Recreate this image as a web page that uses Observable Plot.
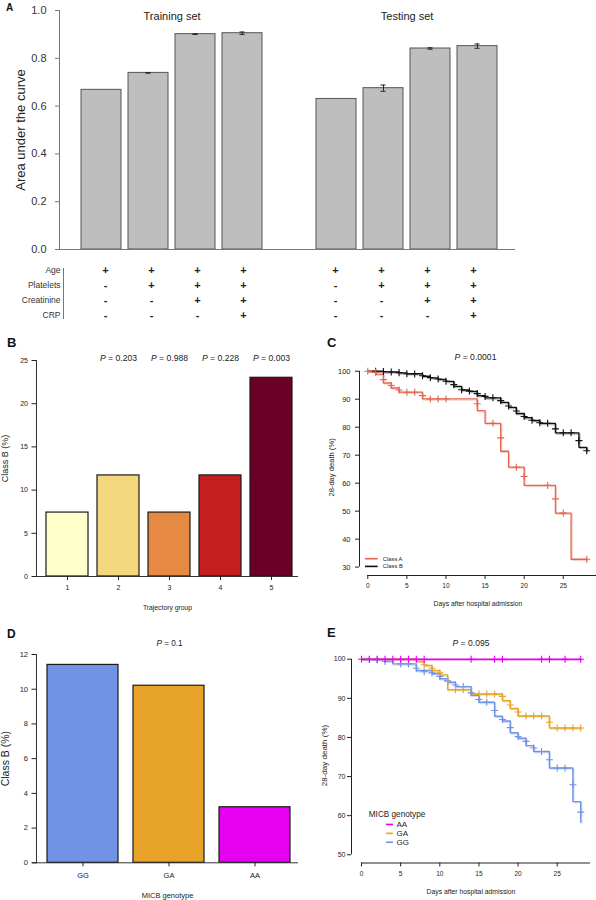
<!DOCTYPE html>
<html lang="en">
<head>
<meta charset="utf-8">
<title>Class B: prediction, trajectories and MICB genotype</title>
<script src="https://cdn.jsdelivr.net/npm/d3@7"></script>
<script src="https://cdn.jsdelivr.net/npm/@observablehq/plot@0.6"></script>
<style>
  html, body { margin: 0; padding: 0; background: #fff; }
  #figure { position: relative; width: 596px; height: 900px; overflow: hidden; background: #fff;
            font-family: "Liberation Sans", Arial, Helvetica, sans-serif; color: #222; }
  #figure > svg { position: absolute; }
  .tag { position: absolute; font-weight: bold; line-height: 1; color: #111; }
</style>
</head>
<body>
<div id="figure"></div>
<script>
const FONT = "'Liberation Sans', Arial, Helvetica, sans-serif";

// ---------- A: area under the curve of nested models ----------
const aucSets = ["Training set", "Testing set"];
const aucModelVariables = [
  ["Age"],
  ["Age", "Platelets"],
  ["Age", "Platelets", "Creatinine"],
  ["Age", "Platelets", "Creatinine", "CRP"]
];
const aucTraining = [0.668, 0.739, 0.901, 0.905];
const aucTrainingErr = [0, 0.001, 0.001, 0.005];
const aucTesting = [0.630, 0.675, 0.841, 0.851];
const aucTestingErr = [0, 0.013, 0.003, 0.009];
const aucVariables = ["Age", "Platelets", "Creatinine", "CRP"];
const aucTicks = [0, 0.2, 0.4, 0.6, 0.8, 1.0];

// ---------- B: class B share by trajectory group ----------
const trajGroups = ["1", "2", "3", "4", "5"];
const trajClassB = [7.4, 11.7, 7.4, 11.7, 23.0];
const trajPValues = ["", "0.203", "0.988", "0.228", "0.003"];
const trajColors = ["#ffffcc", "#f2d77e", "#e68a43", "#c41f1f", "#6a0028"];
const trajTicks = [0, 5, 10, 15, 20, 25];

// ---------- C: 28-day survival by class ----------
const classNames = ["Class A", "Class B"];
const classColors = ["#e2674e", "#111111"];
const classAEventDays = [1, 2, 3, 4, 7, 14, 15, 17, 18, 20, 24, 26];
const classAEventSurv = [99.0, 95.8, 94.0, 92.5, 90.1, 85.9, 81.4, 71.4, 65.7, 59.2, 49.3, 32.8];
const classACensorDays = [0, 1, 2, 3, 4, 5, 6, 7, 8, 9, 10, 14, 16, 17, 19, 20, 23, 24, 25, 28];
const classACensorSurv = [100, 99.6, 97.0, 94.9, 93.3, 92.5, 92.5, 91.3, 90.1, 90.1, 90.1, 88.4, 81.4, 76.2, 65.7, 62.4, 59.2, 54.4, 49.3, 32.8];
const classBEventDays = [2, 4, 5, 7, 8, 9, 10, 11, 12, 13, 14, 15, 17, 18, 19, 20, 21, 22, 24, 27, 28];
const classBEventSurv = [99.8, 99.4, 99.1, 98.2, 97.6, 97.1, 96.4, 94.6, 93.3, 92.8, 91.3, 90.5, 88.9, 87.1, 84.9, 83.4, 82.4, 81.4, 78.0, 72.8, 71.6];
const classBCensorDays = [1, 2, 3, 4, 5, 6, 7, 8, 9, 10, 11, 12, 13, 14, 15, 16, 17, 18, 19, 20, 21, 22, 23, 24, 25, 26, 27, 28];
const classBCensorSurv = [100, 99.9, 99.7, 99.5, 99.1, 99.0, 98.4, 97.7, 97.2, 96.4, 95.2, 93.4, 92.9, 92.0, 91.0, 90.5, 89.5, 87.6, 85.8, 83.8, 82.5, 81.6, 81.4, 79.4, 78.0, 78.0, 75.2, 71.6];

// ---------- D: class B share by MICB genotype ----------
const micbGenotypes = ["GG", "GA", "AA"];
const micbClassB = [11.4, 10.2, 3.2];
const micbColors = ["#7093e6", "#e8a428", "#e600f0"];
const micbTicks = [0, 2, 4, 6, 8, 10, 12];

// ---------- E: 28-day survival by MICB genotype ----------
const aaEventDays = [];
const aaEventSurv = [];
const aaCensorDays = [0, 1, 2, 3, 4, 5, 6, 7, 8, 14, 17, 18, 23, 24, 26, 28];
const aaCensorSurv = [100, 100, 100, 100, 100, 100, 100, 100, 100, 100, 100, 100, 100, 100, 100, 100];
const gaEventDays = [7, 8, 9, 10, 11, 14, 18, 19, 20, 24];
const gaEventSurv = [99.4, 98.4, 97.1, 96.0, 92.2, 91.1, 89.4, 87.4, 85.5, 82.4];
const gaCensorDays = [6, 8, 9, 10, 11, 12, 13, 15, 16, 17, 18, 19, 20, 21, 22, 23, 24, 25, 26, 27, 28];
const gaCensorSurv = [100, 98.6, 97.7, 96.5, 94.3, 92.2, 92.2, 91.1, 91.1, 91.1, 90.5, 88.3, 86.5, 85.5, 85.5, 85.5, 83.9, 82.4, 82.4, 82.4, 82.4];
const ggEventDays = [3, 4, 7, 9, 10, 11, 12, 14, 15, 17, 18, 19, 20, 21, 22, 24, 27, 28];
const ggEventSurv = [99.5, 98.8, 97.1, 96.3, 95.0, 94.1, 93.0, 90.8, 89.0, 85.4, 84.2, 81.2, 79.8, 77.9, 76.4, 72.2, 63.6, 58.3];
const ggCensorDays = [1, 2, 3, 5, 6, 7, 8, 9, 10, 11, 12, 13, 14, 15, 16, 17, 18, 19, 20, 21, 22, 23, 24, 25, 26, 27, 28];
const ggCensorSurv = [99.9, 99.8, 99.4, 98.8, 98.8, 97.7, 96.8, 96.5, 95.6, 94.5, 93.4, 93.0, 91.4, 89.7, 89.0, 86.9, 84.6, 82.5, 80.2, 79.0, 77.3, 76.4, 74.3, 72.2, 72.2, 67.9, 60.9];

const dayTicks = [0, 5, 10, 15, 20, 25];
const followUp = 28;

// ---------- helpers ----------
const figure = document.getElementById("figure");
const baseStyle = {fontFamily: FONT, background: "transparent", color: "#222"};

function italicP(svg) {
  svg.querySelectorAll("text").forEach((t) => {
    if (t.children.length === 0 && t.textContent.startsWith("P = ")) {
      const rest = t.textContent.slice(1);
      t.textContent = "";
      const p = document.createElementNS("http://www.w3.org/2000/svg", "tspan");
      p.setAttribute("font-style", "italic");
      p.textContent = "P";
      t.appendChild(p);
      t.appendChild(document.createTextNode(rest));
    }
  });
}
function place(svg, left, top) {
  svg.style.position = "absolute";
  svg.style.left = left + "px";
  svg.style.top = top + "px";
  figure.appendChild(svg);
  italicP(svg);
}
function tag(letter, left, top, size) {
  const d = document.createElement("div");
  d.className = "tag";
  d.textContent = letter;
  d.style.left = left + "px";
  d.style.top = top + "px";
  d.style.fontSize = size + "px";
  figure.appendChild(d);
}
// Kaplan–Meier step path: starts at 100 %, drops at each event day, runs to end of follow-up
function kmSteps(name, days, surv) {
  const pts = [{name, day: 0, surv: 100}];
  days.forEach((d, i) => pts.push({name, day: d, surv: surv[i]}));
  const last = pts[pts.length - 1];
  if (last.day < followUp) pts.push({name, day: followUp, surv: last.surv});
  return pts;
}
function kmCensored(name, days, surv) {
  return days.map((d, i) => ({name, day: d, surv: surv[i]}));
}
function kmMarks(steps, censored, width) {
  return [
    Plot.line(steps, {x: "day", y: "surv", z: "name", stroke: "name", curve: "step-after",
                      strokeWidth: width, strokeOpacity: 0.3, dx: 1, dy: 1.2}),
    Plot.line(steps, {x: "day", y: "surv", z: "name", stroke: "name", curve: "step-after", strokeWidth: width}),
    Plot.dot(censored, {x: "day", y: "surv", stroke: "name", symbol: "plus", r: 2.4, strokeWidth: 1.1})
  ];
}

// ---------- A ----------
const aucRows = aucSets.flatMap((set, s) => aucModelVariables.map((vars, i) => ({
  slot: `${set}:${i + 1}`, set, vars,
  auc: (s === 0 ? aucTraining : aucTesting)[i],
  err: (s === 0 ? aucTrainingErr : aucTestingErr)[i]
})));
const aucSlots = [...aucRows.slice(0, 4).map((d) => d.slot), "gap", ...aucRows.slice(4).map((d) => d.slot)];
const aucRange = [80.5, 498];
const aucX = {domain: aucSlots, range: aucRange, paddingInner: 0.15, paddingOuter: 0, axis: null};
const aucStep = (aucRange[1] - aucRange[0]) / (aucSlots.length - 0.15);
const aucWithErr = aucRows.filter((d) => d.err > 0);

const plotA = Plot.plot({
  width: 596, height: 262, marginLeft: 59, marginRight: 81, marginTop: 10, marginBottom: 13,
  style: {...baseStyle, color: "#333"},
  x: aucX,
  y: {domain: [0, 1]},
  marks: [
    Plot.barY(aucRows, {x: "slot", y: "auc", fill: "#bebebe", stroke: "#555", strokeWidth: 1}),
    Plot.ruleX(aucWithErr, {x: "slot", y1: (d) => d.auc - d.err, y2: (d) => d.auc + d.err, stroke: "#222"}),
    Plot.tickY(aucWithErr, {x: "slot", y: (d) => d.auc + d.err, insetLeft: 17.5, insetRight: 17.5, stroke: "#222"}),
    Plot.tickY(aucWithErr, {x: "slot", y: (d) => d.auc - d.err, insetLeft: 17.5, insetRight: 17.5, stroke: "#222"}),
    Plot.ruleY([0], {stroke: "#777"}),
    Plot.frame({anchor: "left", stroke: "#777"}),
    Plot.axisY({ticks: aucTicks, tickFormat: ".1f", tickSize: 4, tickPadding: 9, fontSize: 11, label: null, stroke: "#777"}),
    Plot.text(aucSets, {x: (d) => `${d}:2`, dx: aucStep / 2, frameAnchor: "top", lineAnchor: "middle", dy: 6,
                        text: (d) => d, fontSize: 11, fill: "#222"}),
    Plot.text(["Area under the curve"], {frameAnchor: "left", textAnchor: "middle", lineAnchor: "middle",
                                        dx: -39, rotate: -90, text: (d) => d, fontSize: 13, fill: "#222"})
  ]
});
place(plotA, 0, 0);

const tableCells = aucRows.flatMap((r) => aucVariables.map((v) => ({
  slot: r.slot, variable: v, sign: r.vars.includes(v) ? "+" : "-"
})));
const plotTable = Plot.plot({
  width: 596, height: 58, marginLeft: 63, marginRight: 81, marginTop: 6, marginBottom: 2,
  style: {...baseStyle, color: "#333"},
  x: aucX,
  y: {domain: aucVariables, range: [7, 53], padding: 0},
  marks: [
    Plot.frame({anchor: "left", stroke: "#777"}),
    Plot.axisY({tickSize: 0, tickPadding: 3, fontSize: 8.5, label: null}),
    Plot.text(tableCells, {x: "slot", y: "variable", text: "sign", fontSize: 11, fontWeight: "bold", fill: "#222"})
  ]
});
place(plotTable, 0, 262);

// ---------- B ----------
const trajRows = trajGroups.map((g, i) => ({group: g, pct: trajClassB[i], p: trajPValues[i]}));
const plotB = Plot.plot({
  width: 300, height: 285, marginLeft: 36, marginRight: 2, marginTop: 30, marginBottom: 39,
  style: baseStyle,
  x: {domain: trajGroups, range: [46, 293], paddingInner: 0.17, paddingOuter: 0},
  y: {domain: [0, 25]},
  color: {domain: trajGroups, range: trajColors},
  marks: [
    Plot.barY(trajRows, {x: "group", y: "pct", fill: "group", stroke: "#1a1a1a", strokeWidth: 1.2}),
    Plot.ruleY([0], {insetLeft: -4, stroke: "#333"}),
    Plot.frame({anchor: "left", stroke: "#333"}),
    Plot.axisY({ticks: trajTicks, tickSize: 4.5, tickPadding: 4, fontSize: 7, label: null}),
    Plot.axisX({tickSize: 4, tickPadding: 5, fontSize: 7, label: null}),
    Plot.text(trajRows.filter((d) => d.p), {x: "group", frameAnchor: "top", lineAnchor: "middle", dy: -2,
                                           text: (d) => `P = ${d.p}`, fontSize: 8.6}),
    Plot.text(["Trajectory group"], {frameAnchor: "bottom", lineAnchor: "middle", dy: 31, text: (d) => d, fontSize: 6.8}),
    Plot.text(["Class B (%)"], {frameAnchor: "left", textAnchor: "middle", lineAnchor: "middle",
                               dx: -31, dy: -10, rotate: -90, text: (d) => d, fontSize: 9})
  ]
});
place(plotB, 0, 330);

// ---------- C ----------
const cX = [-1.06, 29.25];
const cY = [27, 102.8];
const stepsC = [
  ...kmSteps("Class B", classBEventDays, classBEventSurv),
  ...kmSteps("Class A", classAEventDays, classAEventSurv)
];
const censC = [
  ...kmCensored("Class B", classBCensorDays, classBCensorSurv),
  ...kmCensored("Class A", classACensorDays, classACensorSurv)
];
const plotC = Plot.plot({
  width: 296, height: 280, marginLeft: 59, marginRight: 0, marginTop: 32.9, marginBottom: 35,
  style: baseStyle,
  x: {domain: cX},
  y: {domain: cY},
  color: {domain: classNames, range: classColors},
  marks: [
    Plot.ruleX([cX[0]], {y1: 30, y2: 100, stroke: "#222"}),
    Plot.ruleY([cY[0]], {x1: 0, x2: cX[1], stroke: "#222"}),
    Plot.axisY({ticks: [30, 40, 50, 60, 70, 80, 90, 100], tickSize: 4, tickPadding: 5, fontSize: 7.5, label: null}),
    Plot.axisX({ticks: dayTicks, tickSize: 4, tickPadding: 4, fontSize: 6.5, label: null}),
    ...kmMarks(stepsC, censC, 1.3),
    Plot.ruleY(classNames, {y: (d, i) => 33.0 - 2.75 * i, x1: -0.29, x2: 1.33, stroke: (d) => d, strokeWidth: 1.6}),
    Plot.text(classNames, {x: 1.92, y: (d, i) => 33.0 - 2.75 * i, text: (d) => d, textAnchor: "start", fontSize: 5.8}),
    Plot.text(["P = 0.0001"], {frameAnchor: "top", lineAnchor: "middle", dy: -6, dx: -2.5, text: (d) => d, fontSize: 8.6}),
    Plot.text(["Days after hospital admission"], {frameAnchor: "bottom", lineAnchor: "middle", dy: 28, text: (d) => d, fontSize: 6.8}),
    Plot.text(["28-day death (%)"], {frameAnchor: "left", textAnchor: "middle", lineAnchor: "middle",
                                    dx: -28, dy: -2, rotate: -90, text: (d) => d, fontSize: 7.6})
  ]
});
place(plotC, 300, 330);

// ---------- D ----------
const micbRows = micbGenotypes.map((g, i) => ({genotype: g, pct: micbClassB[i]}));
const plotD = Plot.plot({
  width: 300, height: 285, marginLeft: 36, marginRight: 2, marginTop: 39, marginBottom: 37.7,
  style: baseStyle,
  x: {domain: micbGenotypes, range: [46, 292], paddingInner: 0.17, paddingOuter: 0},
  y: {domain: [0, 12]},
  color: {domain: micbGenotypes, range: micbColors},
  marks: [
    Plot.barY(micbRows, {x: "genotype", y: "pct", fill: "genotype", stroke: "#1a1a1a", strokeWidth: 1.2}),
    Plot.ruleY([0], {insetLeft: -4, stroke: "#333"}),
    Plot.frame({anchor: "left", stroke: "#333"}),
    Plot.axisY({ticks: micbTicks, tickSize: 4.5, tickPadding: 4, fontSize: 7.5, label: null}),
    Plot.axisX({tickSize: 4, tickPadding: 6, fontSize: 7.5, label: null}),
    Plot.text(["P = 0.1"], {frameAnchor: "top", lineAnchor: "middle", dy: -11, dx: 2, text: (d) => d, fontSize: 8.2}),
    Plot.text(["MICB genotype"], {frameAnchor: "bottom", lineAnchor: "middle", dy: 32.7, text: (d) => d, fontSize: 7.5}),
    Plot.text(["Class B (%)"], {frameAnchor: "left", textAnchor: "middle", lineAnchor: "middle",
                               dx: -31, rotate: -90, text: (d) => d, fontSize: 10.5})
  ]
});
place(plotD, 0, 615);

// ---------- E ----------
const eX = [-1.28, 29.25];
const eY = [47.9, 102.1];
const legendOrderE = ["AA", "GA", "GG"];
const stepsE = [
  ...kmSteps("GG", ggEventDays, ggEventSurv),
  ...kmSteps("GA", gaEventDays, gaEventSurv),
  ...kmSteps("AA", aaEventDays, aaEventSurv)
];
const censE = [
  ...kmCensored("GG", ggCensorDays, ggCensorSurv),
  ...kmCensored("GA", gaCensorDays, gaCensorSurv),
  ...kmCensored("AA", aaCensorDays, aaCensorSurv)
];
const plotE = Plot.plot({
  width: 296, height: 285, marginLeft: 51, marginRight: 6, marginTop: 35.5, marginBottom: 37.5,
  style: baseStyle,
  x: {domain: eX},
  y: {domain: eY},
  color: {domain: micbGenotypes, range: micbColors},
  marks: [
    Plot.ruleX([eX[0]], {y1: 50, y2: 100, stroke: "#222"}),
    Plot.ruleY([eY[0]], {x1: 0, x2: eX[1], stroke: "#222"}),
    Plot.axisY({ticks: [50, 60, 70, 80, 90, 100], tickSize: 4, tickPadding: 2, fontSize: 7, label: null}),
    Plot.axisX({ticks: dayTicks, tickSize: 4, tickPadding: 4, fontSize: 6.5, label: null}),
    ...kmMarks(stepsE, censE, 1.4),
    Plot.text(["MICB genotype"], {x: 0.93, y: 60.3, text: (d) => d, textAnchor: "start", fontSize: 8.2}),
    Plot.ruleY(legendOrderE, {y: (d, i) => 57.76 - 2.28 * i, x1: 3.19, x2: 4.09, stroke: (d) => d, strokeWidth: 1.6}),
    Plot.text(legendOrderE, {x: 4.47, y: (d, i) => 57.76 - 2.28 * i, text: (d) => d, textAnchor: "start", fontSize: 8}),
    Plot.text(["P = 0.095"], {frameAnchor: "top", lineAnchor: "middle", dy: -7.5, text: (d) => d, fontSize: 8.6}),
    Plot.text(["Days after hospital admission"], {frameAnchor: "bottom", lineAnchor: "middle", dy: 29, text: (d) => d, fontSize: 6.8}),
    Plot.text(["28-day death (%)"], {frameAnchor: "left", textAnchor: "middle", lineAnchor: "middle",
                                    dx: -27, dy: -1.5, rotate: -90, text: (d) => d, fontSize: 8})
  ]
});
place(plotE, 300, 615);

// panel letters
tag("A", 6, 2.7, 10);
tag("B", 7, 336.3, 13);
tag("C", 327, 336.3, 13);
tag("D", 7, 628.4, 12);
tag("E", 327, 626.3, 13);
</script>
</body>
</html>
